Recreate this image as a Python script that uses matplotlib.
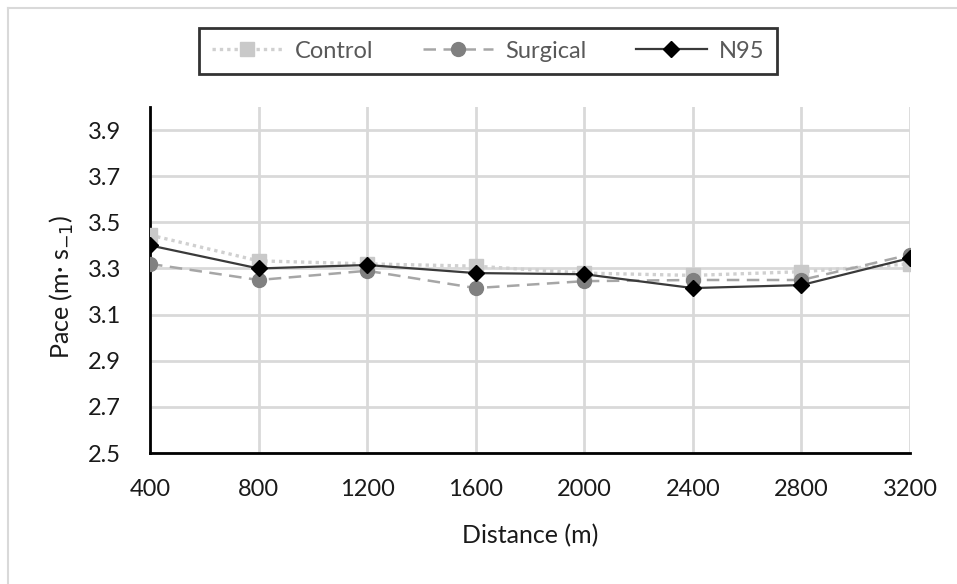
import numpy as np
import matplotlib.pyplot as plt
from matplotlib.lines import Line2D

# values
distance = ['400', '800', '1200', '1600', '2000', '2400', '2800', '3200']
control = [3.445, 3.333, 3.32, 3.31, 3.28, 3.27, 3.286, 3.32]
surgical = [3.32, 3.25, 3.29, 3.215, 3.245, 3.25, 3.25, 3.36]
n95 = [3.40, 3.30, 3.315, 3.28, 3.275, 3.215, 3.228, 3.345]
yticks = [2.5, 2.7, 2.9, 3.1, 3.3, 3.5, 3.7, 3.9]

plt.rcParams['font.family'] = ['Lato', 'DejaVu Sans']

W, H = 957, 584
fig = plt.figure(figsize=(W / 100, H / 100), dpi=100)
ax = fig.add_axes([150 / W, 1 - 453 / H, 760 / W, 346 / H])

x = np.arange(len(distance))
ax.plot(x, control, color='#d0d0d0', ls=(0, (1, 1.2)), lw=2.4,
        marker='s', ms=10, mfc='#c9c9c9', mec='#c9c9c9', label='Control', zorder=3)
ax.plot(x, surgical, color='#a6a6a6', ls=(0, (5, 3)), lw=1.8,
        marker='o', ms=10, mfc='#808080', mec='#808080', label='Surgical', zorder=4)
ax.plot(x, n95, color='#3a3a3a', lw=1.6,
        marker='D', ms=8, mfc='black', mec='black', label='N95', zorder=5)

ax.set_xlim(0, len(distance) - 1)
ax.set_ylim(2.5, 4.0)
ax.set_xticks(x)
ax.set_xticklabels(distance)
ax.set_yticks(yticks)
ax.set_yticklabels([f'{v:.1f}' for v in yticks])
ax.tick_params(length=0, labelsize=17, colors='#1a1a1a')
ax.tick_params(axis='x', pad=19)
ax.tick_params(axis='y', pad=21)
ax.grid(True, color='#d9d9d9', lw=2)
ax.set_axisbelow(True)
for side in ['top', 'right']:
    ax.spines[side].set_visible(False)
for side in ['left', 'bottom']:
    ax.spines[side].set_color('black')
    ax.spines[side].set_linewidth(2)
    ax.spines[side].set_zorder(2)

ax.set_xlabel('Distance (m)', fontsize=18, color='#1a1a1a')
ax.xaxis.set_label_coords(0.5, -0.205)
ax.set_ylabel('Pace (m\u00b7 s$_{-1}$)', fontsize=18, color='#1a1a1a')
ax.yaxis.set_label_coords(-0.097, 0.48)

leg = fig.legend(loc='center', bbox_to_anchor=(488 / W, 1 - 51 / H), ncol=3,
                 fontsize=17, frameon=True, fancybox=False, handlelength=3.0,
                 handletextpad=0.5, columnspacing=2.1, borderpad=0.55,
                 borderaxespad=0)
leg.get_frame().set_edgecolor('black')
leg.get_frame().set_linewidth(2)
for t in leg.get_texts():
    t.set_color('#595959')

# light border of the chart area (left and top edges are visible)
fig.add_artist(Line2D([8 / W, 8 / W], [0, 1 - 8 / H], transform=fig.transFigure,
                      color='#d9d9d9', lw=1.5))
fig.add_artist(Line2D([8 / W, 1], [1 - 8 / H, 1 - 8 / H], transform=fig.transFigure,
                      color='#d9d9d9', lw=1.5))

fig.savefig('out.png', dpi=100)
